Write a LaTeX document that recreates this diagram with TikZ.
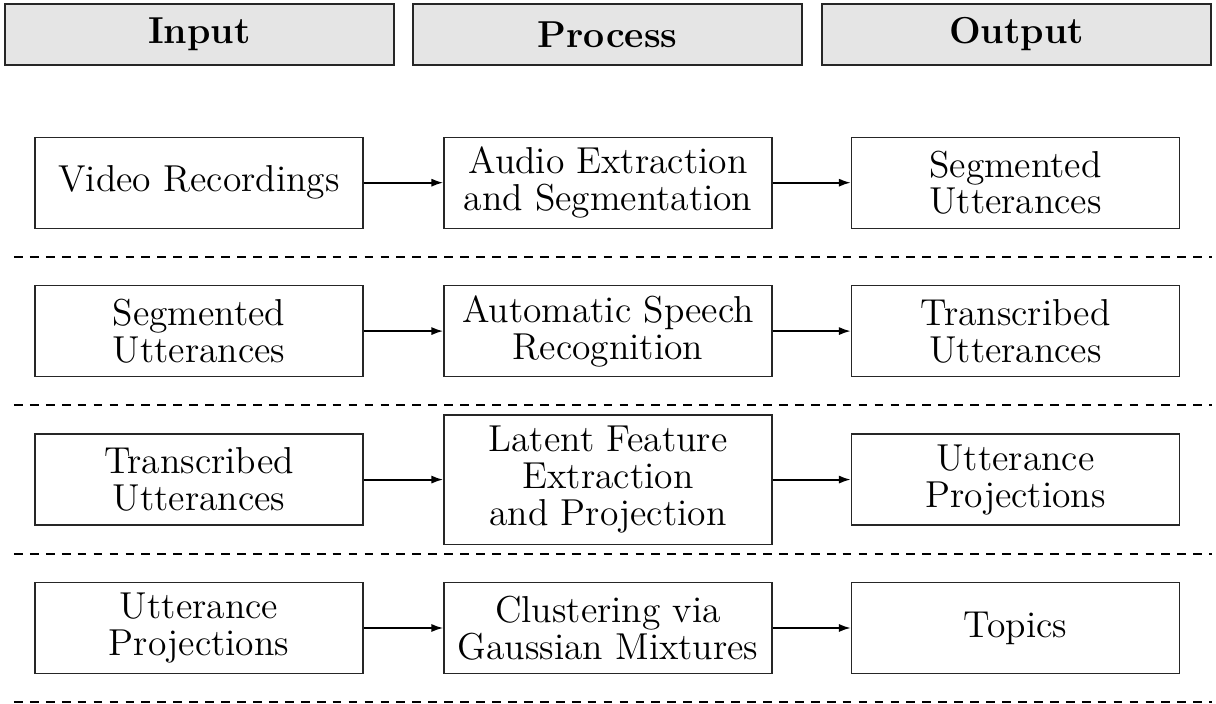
\documentclass[tikz,border=0pt]{standalone}
\usetikzlibrary{arrows.meta}
\begin{document}
\begin{tikzpicture}[x=0.32pt,y=-0.32pt,
  hdr/.style={draw=black!85,line width=0.4pt,fill=black!10,minimum width=124.5pt,minimum height=19.5pt,inner sep=0pt,font=\fontsize{12}{12}\selectfont\bfseries},
  stepbox/.style={draw=black!85,line width=0.4pt,minimum width=105pt,minimum height=29.1pt,inner sep=0pt,align=center,font=\fontsize{12}{11.8}\selectfont},
  tallbox/.style={stepbox,minimum height=41.4pt},
  flow/.style={line width=0.6pt,-{Latex[length=3.8pt,width=2.6pt]}},
  sep/.style={line width=0.6pt,dash pattern=on 2.8pt off 2.3pt}]
\useasboundingbox (0,0) rectangle (1216,704);
% headers
\node[hdr] (hin) at (199.5,34.5) {Input};
\node[hdr] (hpr) at (607.5,34.5) {Process};
\node[hdr] (hout) at (1016.5,34.5) {Output};
% row 1
\node[stepbox] (a1) at (199,182.7) {Video Recordings};
\node[stepbox] (b1) at (608,182.7) {Audio Extraction\\and Segmentation};
\node[stepbox] (c1) at (1015.5,182.7) {Segmented\\Utterances};
% row 2
\node[stepbox] (a2) at (199,331.1) {Segmented\\Utterances};
\node[stepbox] (b2) at (608,331.1) {Automatic Speech\\Recognition};
\node[stepbox] (c2) at (1015.5,331.1) {Transcribed\\Utterances};
% row 3
\node[stepbox] (a3) at (199,479.6) {Transcribed\\Utterances};
\node[tallbox] (b3) at (608,479.6) {Latent Feature\\Extraction\\and Projection};
\node[stepbox] (c3) at (1015.5,479.6) {Utterance\\Projections};
% row 4
\node[stepbox] (a4) at (199,628) {Utterance\\Projections};
\node[stepbox] (b4) at (608,628) {Clustering via\\Gaussian Mixtures};
\node[stepbox] (c4) at (1015.5,628) {Topics};
% arrows
\foreach \r in {1,2,3,4}{
  \draw[flow] (a\r) -- (b\r);
  \draw[flow] (b\r) -- (c\r);
}
% separators
\coordinate (s1l) at (14,257); \coordinate (s1r) at (1212,257);
\coordinate (s2l) at (14,405.4); \coordinate (s2r) at (1212,405.4);
\coordinate (s3l) at (14,553.8); \coordinate (s3r) at (1212,553.8);
\coordinate (s4l) at (14,702.2); \coordinate (s4r) at (1212,702.2);
\foreach \s in {1,2,3,4}{\draw[sep] (s\s l) -- (s\s r);}
\end{tikzpicture}
\end{document}
